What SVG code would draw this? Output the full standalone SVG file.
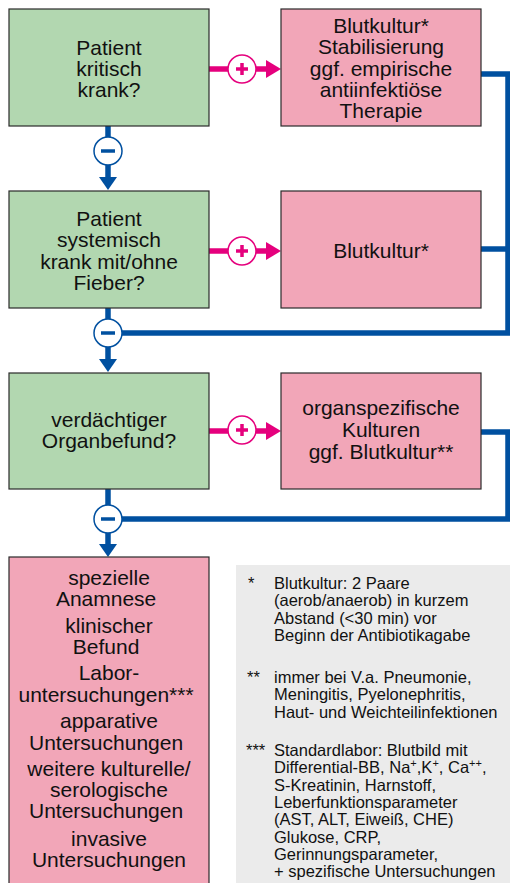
<svg xmlns="http://www.w3.org/2000/svg" width="510" height="883" viewBox="0 0 510 883">
<style>
.g{fill:#b2d7b0;stroke:#2a2a2a;stroke-width:1.2}
.p{fill:#f2a6b8;stroke:#2a2a2a;stroke-width:1.2}
.t{font-family:"Liberation Sans",Arial,Helvetica,sans-serif;font-size:21px;fill:#111;text-anchor:middle}
.f{font-family:"Liberation Sans",Arial,Helvetica,sans-serif;font-size:16.5px;fill:#111}
.bl{stroke:#0050a0;stroke-width:5.5;fill:none}
.pk{stroke:#e5007d;stroke-width:5.5;fill:none}
.cb{fill:#fff;stroke:#0050a0;stroke-width:1.5}
.cp{fill:#fff;stroke:#e5007d;stroke-width:1.5}
.sb{stroke:#0050a0;stroke-width:3.5}
.sp{stroke:#e5007d;stroke-width:3.5}
.ab{fill:#0050a0}
.ap{fill:#e5007d}
</style>
<rect x="0" y="0" width="510" height="883" fill="#fff"/>
<g id="connectors">
  <!-- plus arrows -->
  <line class="pk" x1="209" y1="69" x2="268" y2="69"/>
  <polygon class="ap" points="266,60 281,69 266,78"/>
  <circle class="cp" cx="242" cy="69" r="14"/>
  <line class="sp" x1="236" y1="69" x2="248" y2="69"/><line class="sp" x1="242" y1="63" x2="242" y2="75"/>

  <line class="pk" x1="209" y1="251" x2="268" y2="251"/>
  <polygon class="ap" points="266,242 281,251 266,260"/>
  <circle class="cp" cx="242" cy="251" r="14"/>
  <line class="sp" x1="236" y1="251" x2="248" y2="251"/><line class="sp" x1="242" y1="245" x2="242" y2="257"/>

  <line class="pk" x1="209" y1="431" x2="268" y2="431"/>
  <polygon class="ap" points="266,422 281,431 266,440"/>
  <circle class="cp" cx="242" cy="430" r="14"/>
  <line class="sp" x1="236" y1="430" x2="248" y2="430"/><line class="sp" x1="242" y1="424" x2="242" y2="436"/>

  <!-- right feedback lines -->
  <polyline class="bl" points="481,74 508,74 508,333 122,333"/>
  <line class="bl" x1="481" y1="249" x2="508" y2="249"/>
  <polyline class="bl" points="481,432 508,432 508,519 122,519"/>

  <!-- minus arrows -->
  <line class="bl" x1="108" y1="126" x2="108" y2="179"/>
  <polygon class="ab" points="99,177 117,177 108,190"/>
  <circle class="cb" cx="108" cy="151" r="14"/>
  <line class="sb" x1="101" y1="151" x2="115" y2="151"/>

  <line class="bl" x1="108" y1="308" x2="108" y2="361"/>
  <polygon class="ab" points="99,359 117,359 108,372"/>
  <circle class="cb" cx="108" cy="333" r="14"/>
  <line class="sb" x1="101" y1="333" x2="115" y2="333"/>

  <line class="bl" x1="108" y1="489" x2="108" y2="546"/>
  <polygon class="ab" points="99,544 117,544 108,557"/>
  <circle class="cb" cx="108" cy="519" r="14"/>
  <line class="sb" x1="101" y1="519" x2="115" y2="519"/>
</g>
<g id="q1">
  <rect class="g" x="9" y="9" width="200" height="117"/>
  <text class="t"><tspan x="109" y="55">Patient</tspan><tspan x="109" y="76">kritisch</tspan><tspan x="109" y="97">krank?</tspan></text>
</g>
<g id="a1">
  <rect class="p" x="281" y="9" width="200" height="117"/>
  <text class="t"><tspan x="381" y="33">Blutkultur*</tspan><tspan x="381" y="54">Stabilisierung</tspan><tspan x="381" y="75.5">ggf. empirische</tspan><tspan x="381" y="97">antiinfektiöse</tspan><tspan x="381" y="118">Therapie</tspan></text>
</g>
<g id="q2">
  <rect class="g" x="9" y="191" width="200" height="117"/>
  <text class="t"><tspan x="109" y="226">Patient</tspan><tspan x="109" y="247.3">systemisch</tspan><tspan x="109" y="268.6">krank mit/ohne</tspan><tspan x="109" y="290">Fieber?</tspan></text>
</g>
<g id="a2">
  <rect class="p" x="281" y="191" width="200" height="117"/>
  <text class="t" x="381" y="258">Blutkultur*</text>
</g>
<g id="q3">
  <rect class="g" x="9" y="373" width="200" height="116"/>
  <text class="t"><tspan x="109" y="427">verdächtiger</tspan><tspan x="109" y="448">Organbefund?</tspan></text>
</g>
<g id="a3">
  <rect class="p" x="281" y="373" width="200" height="116"/>
  <text class="t"><tspan x="381" y="415">organspezifische</tspan><tspan x="381" y="437">Kulturen</tspan><tspan x="381" y="459">ggf. Blutkultur**</tspan></text>
</g>
<g id="final">
  <rect class="p" x="9" y="557" width="200" height="330"/>
  <text class="t">
    <tspan x="109" y="585">spezielle</tspan><tspan x="109" y="606">Anamnese</tspan>
    <tspan x="109" y="633">klinischer</tspan><tspan x="109" y="654">Befund</tspan>
    <tspan x="109" y="680">Labor-</tspan><tspan x="109" y="702">untersuchungen***</tspan>
    <tspan x="109" y="728">apparative</tspan><tspan x="109" y="750">Untersuchungen</tspan>
    <tspan x="109" y="776">weitere kulturelle/</tspan><tspan x="109" y="797">serologische</tspan><tspan x="109" y="818">Untersuchungen</tspan>
    <tspan x="109" y="846">invasive</tspan><tspan x="109" y="867">Untersuchungen</tspan>
  </text>
</g>
<g id="footnotes">
  <rect x="236" y="565" width="274" height="318" fill="#ebebeb"/>
  <text class="f" x="248" y="589">*</text>
  <text class="f"><tspan x="274" y="589">Blutkultur: 2 Paare</tspan><tspan x="274" y="606.3">(aerob/anaerob) in kurzem</tspan><tspan x="274" y="623.6">Abstand (&lt;30 min) vor</tspan><tspan x="274" y="641">Beginn der Antibiotikagabe</tspan></text>
  <text class="f" x="247" y="683">**</text>
  <text class="f"><tspan x="274" y="683">immer bei V.a. Pneumonie,</tspan><tspan x="274" y="700.3">Meningitis, Pyelonephritis,</tspan><tspan x="274" y="717.6">Haut- und Weichteilinfektionen</tspan></text>
  <text class="f" x="246" y="756">***</text>
  <text class="f">
    <tspan x="274" y="756">Standardlabor: Blutbild mit</tspan>
    <tspan x="274" y="773.3">Differential-BB, Na</tspan><tspan dy="-6" font-size="11">+</tspan><tspan dy="6">,K</tspan><tspan dy="-6" font-size="11">+</tspan><tspan dy="6">, Ca</tspan><tspan dy="-6" font-size="11">++</tspan><tspan dy="6">,</tspan>
    <tspan x="274" y="790.6">S-Kreatinin, Harnstoff,</tspan>
    <tspan x="274" y="808">Leberfunktionsparameter</tspan>
    <tspan x="274" y="825.3">(AST, ALT, Eiweiß, CHE)</tspan>
    <tspan x="274" y="842.6">Glukose, CRP,</tspan>
    <tspan x="274" y="860">Gerinnungsparameter,</tspan>
    <tspan x="274" y="877.3">+ spezifische Untersuchungen</tspan>
  </text>
</g>
</svg>
